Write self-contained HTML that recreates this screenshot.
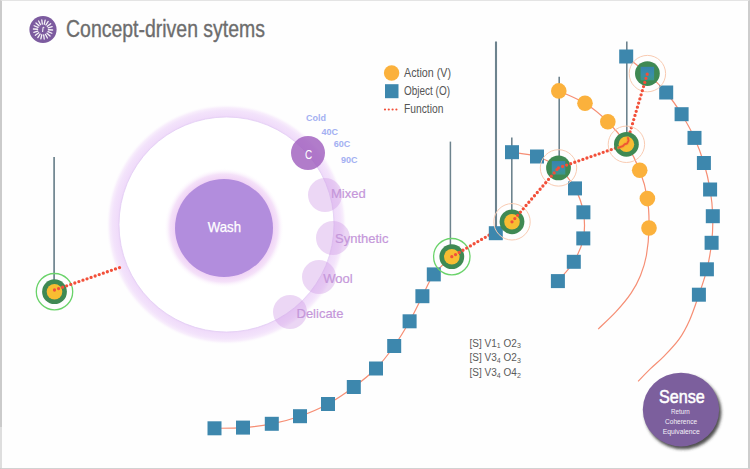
<!DOCTYPE html>
<html><head><meta charset="utf-8"><style>
html,body{margin:0;padding:0;background:#fff;}
body{width:750px;height:469px;overflow:hidden;position:relative;}
.frame{position:absolute;left:0;top:0;width:750px;height:469px;box-sizing:border-box;border-left:2px solid #cbcbcb;border-right:2px solid #cdcdcd;border-top:1px solid #e4e4e4;border-bottom:1px solid #d2d2d2;pointer-events:none;}
svg{position:absolute;left:0;top:0;font-family:"Liberation Sans",sans-serif;}
</style></head><body>
<svg width="750" height="469" viewBox="0 0 750 469">
<rect width="750" height="469" fill="#fefefe"/>
<defs><filter id="glow" x="-30%" y="-30%" width="160%" height="160%"><feGaussianBlur stdDeviation="3"/></filter><filter id="glow2" x="-30%" y="-30%" width="160%" height="160%"><feGaussianBlur stdDeviation="4"/></filter><filter id="sh" x="-30%" y="-30%" width="160%" height="160%"><feGaussianBlur stdDeviation="1.6"/></filter><linearGradient id="nsq" x1="0" y1="0" x2="0" y2="1"><stop offset="0" stop-color="#3783ae"/><stop offset="0.6" stop-color="#3a8fa8"/><stop offset="1" stop-color="#3b9688"/></linearGradient></defs>
<radialGradient id="rg" cx="226.5" cy="224.5" r="120" gradientUnits="userSpaceOnUse"><stop offset="0.89" stop-color="#ead2f7"/><stop offset="0.908" stop-color="#f0dcfa"/><stop offset="0.95" stop-color="#f3e3fb"/><stop offset="0.975" stop-color="#f8eefc"/><stop offset="1" stop-color="#fdfbfe" stop-opacity="0"/></radialGradient>
<radialGradient id="wg" cx="224" cy="228" r="60" gradientUnits="userSpaceOnUse"><stop offset="0.8" stop-color="#efd0f5"/><stop offset="0.9" stop-color="#f5e2f9"/><stop offset="1" stop-color="#ffffff" stop-opacity="0"/></radialGradient>
<circle cx="226.5" cy="224.5" r="120" fill="url(#rg)"/>
<circle cx="226.5" cy="224.5" r="107.5" fill="#ffffff" stroke="#e2cdf4" stroke-width="0.8"/>
<circle cx="224" cy="228" r="60" fill="url(#wg)"/>
<circle cx="224" cy="228" r="49" fill="#b28ddd"/>
<text x="207.7" y="231.5" font-size="15" fill="#ffffff" stroke="#ffffff" stroke-width="0.25" textLength="33.3" lengthAdjust="spacingAndGlyphs">Wash</text>
<circle cx="325" cy="195" r="17" fill="#cf9ce6" fill-opacity="0.4"/>
<circle cx="333" cy="238" r="17" fill="#cf9ce6" fill-opacity="0.4"/>
<circle cx="319" cy="277" r="17" fill="#cf9ce6" fill-opacity="0.4"/>
<circle cx="290" cy="312" r="17" fill="#cf9ce6" fill-opacity="0.4"/>
<circle cx="308" cy="153" r="17" fill="#9e5bbd" fill-opacity="0.8"/>
<text x="305" y="158.5" font-size="12" fill="#ffffff" textLength="7.2" lengthAdjust="spacingAndGlyphs">C</text>
<text x="331" y="198.2" font-size="13" fill="#c597da" stroke="#c597da" stroke-width="0.2">Mixed</text>
<text x="335" y="243.3" font-size="13" fill="#c597da" stroke="#c597da" stroke-width="0.2">Synthetic</text>
<text x="323.3" y="282.6" font-size="13" fill="#c597da" stroke="#c597da" stroke-width="0.2">Wool</text>
<text x="296.5" y="318.1" font-size="13" fill="#c597da" stroke="#c597da" stroke-width="0.2">Delicate</text>
<text x="306" y="121" font-size="9" font-weight="bold" fill="#a3b0f2">Cold</text>
<text x="321.6" y="134.5" font-size="9" font-weight="bold" fill="#a3b0f2">40C</text>
<text x="333.7" y="147" font-size="9" font-weight="bold" fill="#a3b0f2">60C</text>
<text x="341" y="163" font-size="9" font-weight="bold" fill="#a3b0f2">90C</text>
<path d="M214.5,428.3 C219.2,428.2 233.4,428.4 243.0,427.6 C252.6,426.9 262.3,425.7 271.8,423.8 C281.3,421.9 290.6,419.5 300.0,416.2 C309.4,412.9 319.0,408.9 328.0,404.0 C337.0,399.1 345.8,392.9 353.8,387.0 C361.8,381.1 369.3,375.3 376.0,368.5 C382.7,361.7 388.6,353.9 394.2,346.0 C399.8,338.1 404.9,329.6 409.6,321.3 C414.3,313.0 418.4,304.0 422.4,296.2 C426.4,288.4 428.9,281.0 433.8,274.4 C438.7,267.8 448.8,259.6 451.8,256.7" fill="none" stroke="#f68e74" stroke-width="1.2"/>
<path d="M512.0,152.2 C516.2,152.9 529.2,153.9 537.0,156.5 C544.8,159.1 552.2,162.6 558.5,167.9 C564.8,173.2 570.9,181.0 575.0,188.4 C579.1,195.8 582.0,204.0 583.4,212.3 C584.8,220.6 584.9,230.2 583.3,238.4 C581.7,246.7 578.0,254.7 573.8,261.8 C569.6,268.9 560.5,277.9 557.9,281.1" fill="none" stroke="#f68e74" stroke-width="1.2"/>
<path d="M558.8,90.9 C563.2,93.0 576.8,98.2 585.0,103.3 C593.2,108.4 600.9,114.9 607.8,121.7 C614.7,128.5 621.1,136.2 626.4,144.3 C631.7,152.4 636.2,161.1 639.7,170.2 C643.2,179.2 645.9,189.0 647.4,198.6 C648.9,208.2 649.2,218.5 649.0,228.0 C648.8,237.5 647.8,247.6 646.4,255.5 C645.0,263.4 643.0,269.2 640.5,275.5 C638.0,281.8 635.2,287.0 631.1,293.1 C627.0,299.2 621.3,305.9 615.8,311.9 C610.3,317.9 601.1,326.2 598.2,329.1" fill="none" stroke="#f68e74" stroke-width="1.2"/>
<path d="M626.2,56.5 C629.7,59.4 640.7,67.6 647.4,73.6 C654.1,79.6 660.5,85.7 666.2,92.5 C671.9,99.3 676.9,106.6 681.6,114.2 C686.3,121.8 690.8,129.8 694.5,137.9 C698.2,146.0 701.3,154.4 703.9,163.0 C706.5,171.6 708.6,180.6 710.1,189.5 C711.6,198.4 712.5,207.3 712.8,216.2 C713.0,225.1 712.6,234.0 711.6,242.8 C710.6,251.7 709.0,260.7 706.9,269.3 C704.8,277.9 701.8,286.3 698.9,294.7 C696.0,303.1 693.0,312.5 689.7,319.9 C686.4,327.3 683.4,333.1 679.1,339.1 C674.8,345.1 668.9,351.1 664.1,356.1 C659.3,361.1 654.6,364.7 650.3,368.9 C646.0,373.1 640.1,379.2 638.1,381.3" fill="none" stroke="#f68e74" stroke-width="1.2"/>
<line x1="54.1" y1="157" x2="54.1" y2="281" stroke="#6d838e" stroke-width="1.7"/>
<line x1="450.4" y1="141.6" x2="450.4" y2="246" stroke="#6d838e" stroke-width="1.5"/>
<line x1="496" y1="41.5" x2="496" y2="227" stroke="#6d838e" stroke-width="2.1"/>
<line x1="511.8" y1="137.5" x2="511.8" y2="212" stroke="#6d838e" stroke-width="1.6"/>
<line x1="559.2" y1="76.8" x2="559.2" y2="157" stroke="#6d838e" stroke-width="1.6"/>
<line x1="626.8" y1="41.4" x2="626.8" y2="133" stroke="#6d838e" stroke-width="1.6"/>
<circle cx="558.8" cy="90.9" r="7.8" fill="#fbb13c"/>
<circle cx="585" cy="103.3" r="7.8" fill="#fbb13c"/>
<circle cx="607.8" cy="121.7" r="7.8" fill="#fbb13c"/>
<circle cx="639.7" cy="170.2" r="7.8" fill="#fbb13c"/>
<circle cx="647.4" cy="198.6" r="7.8" fill="#fbb13c"/>
<circle cx="649" cy="228" r="7.8" fill="#fbb13c"/>
<rect x="207.5" y="421.3" width="14" height="14" fill="#3d87ad"/>
<rect x="236.0" y="420.6" width="14" height="14" fill="#3d87ad"/>
<rect x="264.8" y="416.8" width="14" height="14" fill="#3d87ad"/>
<rect x="293.0" y="409.2" width="14" height="14" fill="#3d87ad"/>
<rect x="321.0" y="397.0" width="14" height="14" fill="#3d87ad"/>
<rect x="346.8" y="380.0" width="14" height="14" fill="#3d87ad"/>
<rect x="369.0" y="361.5" width="14" height="14" fill="#3d87ad"/>
<rect x="387.2" y="339.0" width="14" height="14" fill="#3d87ad"/>
<rect x="402.6" y="314.3" width="14" height="14" fill="#3d87ad"/>
<rect x="415.4" y="289.2" width="14" height="14" fill="#3d87ad"/>
<rect x="426.8" y="267.4" width="14" height="14" fill="#3d87ad"/>
<rect x="505.0" y="145.2" width="14" height="14" fill="#3d87ad"/>
<rect x="530.0" y="149.5" width="14" height="14" fill="#3d87ad"/>
<rect x="568.0" y="181.4" width="14" height="14" fill="#3d87ad"/>
<rect x="576.4" y="205.3" width="14" height="14" fill="#3d87ad"/>
<rect x="576.3" y="231.4" width="14" height="14" fill="#3d87ad"/>
<rect x="566.8" y="254.8" width="14" height="14" fill="#3d87ad"/>
<rect x="550.9" y="274.1" width="14" height="14" fill="#3d87ad"/>
<rect x="619.2" y="49.5" width="14" height="14" fill="#3d87ad"/>
<rect x="659.2" y="85.5" width="14" height="14" fill="#3d87ad"/>
<rect x="674.6" y="107.2" width="14" height="14" fill="#3d87ad"/>
<rect x="687.5" y="130.9" width="14" height="14" fill="#3d87ad"/>
<rect x="696.9" y="156.0" width="14" height="14" fill="#3d87ad"/>
<rect x="703.1" y="182.5" width="14" height="14" fill="#3d87ad"/>
<rect x="705.8" y="209.2" width="14" height="14" fill="#3d87ad"/>
<rect x="704.6" y="235.8" width="14" height="14" fill="#3d87ad"/>
<rect x="699.9" y="262.3" width="14" height="14" fill="#3d87ad"/>
<rect x="691.9" y="287.7" width="14" height="14" fill="#3d87ad"/>
<circle cx="54.5" cy="291.7" r="18.2" fill="none" stroke="#6ad36a" stroke-width="1.3"/>
<circle cx="54.5" cy="291.7" r="12.4" fill="#3f8953"/>
<circle cx="54.5" cy="291.7" r="7.8" fill="#f8bd32"/>
<circle cx="451.8" cy="256.7" r="18.2" fill="none" stroke="#6ad36a" stroke-width="1.3"/>
<circle cx="451.8" cy="256.7" r="12.4" fill="#3f8953"/>
<circle cx="451.8" cy="256.7" r="7.8" fill="#f8bd32"/>
<circle cx="558.5" cy="167.9" r="18.2" fill="none" stroke="#f9cbb2" stroke-width="1.0"/>
<circle cx="558.5" cy="167.9" r="12.4" fill="#3f8953"/>
<rect x="551.8" y="161.1" width="13.5" height="13.5" fill="url(#nsq)"/>
<circle cx="647.4" cy="73.6" r="18.2" fill="none" stroke="#f9cbb2" stroke-width="1.0"/>
<circle cx="647.4" cy="73.6" r="12.4" fill="#3f8953"/>
<rect x="640.6" y="66.8" width="13.5" height="13.5" fill="url(#nsq)"/>
<line x1="451.8" y1="256.7" x2="512" y2="221.8" stroke="#f2503a" stroke-width="3.3" stroke-linecap="round" stroke-dasharray="0 4.3"/>
<rect x="488.8" y="226.2" width="14" height="14" fill="#3d87ad"/>
<circle cx="512" cy="221.8" r="18.2" fill="none" stroke="#f9cbb2" stroke-width="1.0"/>
<circle cx="512" cy="221.8" r="12.4" fill="#3f8953"/>
<circle cx="512" cy="221.8" r="7.8" fill="#f8bd32"/>
<line x1="54.5" y1="290" x2="123.5" y2="266.2" stroke="#f2503a" stroke-width="3.3" stroke-linecap="round" stroke-dasharray="0 4.3"/>
<line x1="512" y1="221.8" x2="558.5" y2="167.9" stroke="#f2503a" stroke-width="3.3" stroke-linecap="round" stroke-dasharray="0 4.3"/>
<line x1="558.5" y1="167.9" x2="626.4" y2="144.3" stroke="#f2503a" stroke-width="3.3" stroke-linecap="round" stroke-dasharray="0 4.3"/>
<line x1="626.4" y1="144.3" x2="647.4" y2="73.6" stroke="#f2503a" stroke-width="3.3" stroke-linecap="round" stroke-dasharray="0 4.3"/>
<circle cx="626.4" cy="144.3" r="18.2" fill="none" stroke="#f9cbb2" stroke-width="1.0"/>
<circle cx="626.4" cy="144.3" r="12.4" fill="#3f8953"/>
<circle cx="626.4" cy="144.3" r="7.8" fill="#f8bd32"/>
<path d="M618.6,147.6 L622.8,146.2 L624.8,144.2 L627,143.6 L628.6,140.6 L628,138" fill="none" stroke="#f59a3a" stroke-width="3.6" stroke-linecap="round" stroke-linejoin="round" stroke-opacity="0.6"/>
<path d="M618.6,147.6 L622.8,146.2 L624.8,144.2 L627,143.6 L628.6,140.6 L628,138" fill="none" stroke="#ee5532" stroke-width="1.8" stroke-linecap="round" stroke-linejoin="round"/>
<circle cx="391.6" cy="73" r="7.7" fill="#fbb13c"/>
<rect x="385" y="84.2" width="13.5" height="14" fill="#3d87ad"/>
<line x1="385" y1="109.5" x2="397" y2="109.5" stroke="#f2503a" stroke-width="2.2" stroke-linecap="round" stroke-dasharray="0 3.8"/>
<text x="404" y="77.4" font-size="12" fill="#555555" textLength="47" lengthAdjust="spacingAndGlyphs">Action (V)</text>
<text x="404" y="94.5" font-size="12" fill="#555555" textLength="46" lengthAdjust="spacingAndGlyphs">Object (O)</text>
<text x="404" y="112.5" font-size="12" fill="#555555" textLength="39.4" lengthAdjust="spacingAndGlyphs">Function</text>
<g font-size="10" fill="#5a5a5a">
<text x="469.6" y="346.5">[S] V1<tspan font-size="7" dy="1.5">1</tspan><tspan dy="-1.5"> O2</tspan><tspan font-size="7" dy="1.5">3</tspan></text>
<text x="469.6" y="361.2">[S] V3<tspan font-size="7" dy="1.5">4</tspan><tspan dy="-1.5"> O2</tspan><tspan font-size="7" dy="1.5">3</tspan></text>
<text x="469.6" y="376">[S] V3<tspan font-size="7" dy="1.5">4</tspan><tspan dy="-1.5"> O4</tspan><tspan font-size="7" dy="1.5">2</tspan></text>
</g>
<ellipse cx="683" cy="412.3" rx="38.4" ry="37" fill="#333333" fill-opacity="0.85" filter="url(#sh)"/>
<ellipse cx="681" cy="409.6" rx="38.2" ry="36.8" fill="#7c5f9d"/>
<text x="659" y="402.6" font-size="19" fill="#ffffff" stroke="#ffffff" stroke-width="0.55" textLength="45.8" lengthAdjust="spacingAndGlyphs">Sense</text>
<text x="671" y="414.1" font-size="7.5" fill="#f4eff8" textLength="18.7" lengthAdjust="spacingAndGlyphs">Return</text>
<text x="665" y="424.1" font-size="7.5" fill="#f4eff8" textLength="32.1" lengthAdjust="spacingAndGlyphs">Coherence</text>
<text x="662.7" y="434.2" font-size="7.5" fill="#f4eff8" textLength="37" lengthAdjust="spacingAndGlyphs">Equivalence</text>
<circle cx="43" cy="29.5" r="13.6" fill="#7c5b9f"/>
<line x1="48.39" y1="29.77" x2="52.59" y2="29.98" stroke="#ffffff" stroke-width="1.3" stroke-linecap="round" stroke-opacity="0.92"/>
<line x1="47.98" y1="31.60" x2="51.85" y2="33.23" stroke="#ffffff" stroke-width="1.3" stroke-linecap="round" stroke-opacity="0.92"/>
<line x1="46.96" y1="33.17" x2="50.04" y2="36.03" stroke="#ffffff" stroke-width="1.3" stroke-linecap="round" stroke-opacity="0.92"/>
<line x1="45.46" y1="34.31" x2="47.38" y2="38.04" stroke="#ffffff" stroke-width="1.3" stroke-linecap="round" stroke-opacity="0.92"/>
<line x1="43.67" y1="34.86" x2="44.19" y2="39.03" stroke="#ffffff" stroke-width="1.3" stroke-linecap="round" stroke-opacity="0.92"/>
<line x1="41.80" y1="34.76" x2="40.86" y2="38.86" stroke="#ffffff" stroke-width="1.3" stroke-linecap="round" stroke-opacity="0.92"/>
<line x1="40.07" y1="34.04" x2="37.79" y2="37.56" stroke="#ffffff" stroke-width="1.3" stroke-linecap="round" stroke-opacity="0.92"/>
<line x1="38.70" y1="32.76" x2="35.35" y2="35.30" stroke="#ffffff" stroke-width="1.3" stroke-linecap="round" stroke-opacity="0.92"/>
<line x1="37.84" y1="31.09" x2="33.83" y2="32.33" stroke="#ffffff" stroke-width="1.3" stroke-linecap="round" stroke-opacity="0.92"/>
<line x1="37.61" y1="29.23" x2="33.41" y2="29.02" stroke="#ffffff" stroke-width="1.3" stroke-linecap="round" stroke-opacity="0.92"/>
<line x1="38.02" y1="27.40" x2="34.15" y2="25.77" stroke="#ffffff" stroke-width="1.3" stroke-linecap="round" stroke-opacity="0.92"/>
<line x1="39.04" y1="25.83" x2="35.96" y2="22.97" stroke="#ffffff" stroke-width="1.3" stroke-linecap="round" stroke-opacity="0.92"/>
<line x1="40.54" y1="24.69" x2="38.62" y2="20.96" stroke="#ffffff" stroke-width="1.3" stroke-linecap="round" stroke-opacity="0.92"/>
<line x1="42.33" y1="24.14" x2="41.81" y2="19.97" stroke="#ffffff" stroke-width="1.3" stroke-linecap="round" stroke-opacity="0.92"/>
<line x1="44.20" y1="24.24" x2="45.14" y2="20.14" stroke="#ffffff" stroke-width="1.3" stroke-linecap="round" stroke-opacity="0.92"/>
<line x1="45.93" y1="24.96" x2="48.21" y2="21.44" stroke="#ffffff" stroke-width="1.3" stroke-linecap="round" stroke-opacity="0.92"/>
<line x1="47.30" y1="26.24" x2="50.65" y2="23.70" stroke="#ffffff" stroke-width="1.3" stroke-linecap="round" stroke-opacity="0.92"/>
<line x1="48.16" y1="27.91" x2="52.17" y2="26.67" stroke="#ffffff" stroke-width="1.3" stroke-linecap="round" stroke-opacity="0.92"/>
<path d="M42.6,32 L43.1,27.2 L44.3,27.6" stroke="#ffffff" stroke-width="1" fill="none"/>
<text x="66" y="37" font-size="23" fill="#6d6d6d" stroke="#6d6d6d" stroke-width="0.35" textLength="199" lengthAdjust="spacingAndGlyphs">Concept-driven sytems</text>
</svg>
<div class="frame"></div>
<div style="position:absolute;left:0;top:427px;width:2px;height:41px;background:#dedede;"></div>
</body></html>
